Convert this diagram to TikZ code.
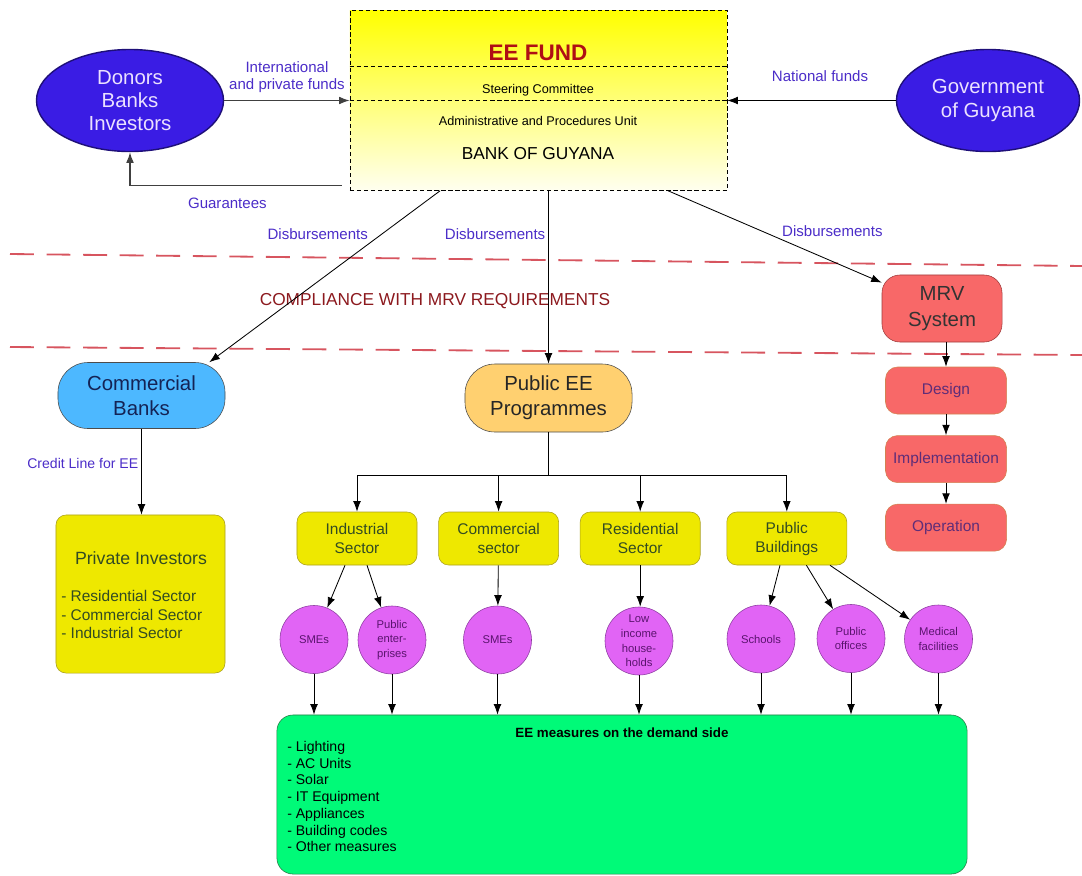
\documentclass[tikz,border=0pt]{standalone}
\usepackage{fontspec}
\setmainfont{Liberation Sans}
\usetikzlibrary{positioning, arrows.meta, shapes.geometric}
\tikzset{flecha/.style={line width=0.6pt, -{Latex[length=7.5pt,width=5.5pt]}}}
\definecolor{azul}{RGB}{75,45,200}
\definecolor{elipse}{RGB}{58,28,228}
\definecolor{elipseborde}{RGB}{30,15,120}
\definecolor{elipsetexto}{RGB}{235,225,255}
\definecolor{rojoee}{RGB}{175,15,20}
\definecolor{rayaroja}{RGB}{215,85,95}
\definecolor{cumple}{RGB}{140,25,30}
\definecolor{mrvfill}{RGB}{248,104,104}
\definecolor{mrvborde}{RGB}{160,60,60}
\definecolor{naranja}{RGB}{210,130,80}
\definecolor{morado}{RGB}{95,45,120}
\definecolor{celeste}{RGB}{77,184,255}
\definecolor{marino}{RGB}{20,35,85}
\definecolor{durazno}{RGB}{255,208,112}
\definecolor{amarillo}{RGB}{238,232,0}
\definecolor{amarilloborde}{RGB}{170,160,30}
\definecolor{verdeosc}{RGB}{50,75,35}
\definecolor{magenta}{RGB}{225,100,245}
\definecolor{magentaborde}{RGB}{140,60,160}
\definecolor{magentatexto}{RGB}{90,20,110}
\definecolor{verde}{RGB}{0,250,120}
\definecolor{verdeborde}{RGB}{40,120,70}

\begin{document}
\begin{tikzpicture}[
            x=0.025cm, y=-0.025cm,
            every node/.style={inner sep=2pt},
            etiq/.style={text=azul, align=center, font=\fontsize{10.7}{12.4}\selectfont},
            elipse/.style={ellipse, draw=elipseborde, line width=1pt, fill=elipse, text=elipsetexto, align=center, minimum height=2.55cm, font=\fontsize{14.5}{16.6}\selectfont},
            programa/.style={rounded corners=0.75cm, draw=black!70, minimum width=4.175cm, align=center, font=\fontsize{14.5}{17.8}\selectfont},
            paso/.style={rounded corners=0.3cm, draw=naranja, fill=mrvfill, text=morado, minimum width=3.025cm, minimum height=1.175cm, font=\fontsize{11}{13}\selectfont},
            sector/.style={rounded corners=0.25cm, draw=amarilloborde, fill=amarillo, text=verdeosc, align=center, minimum width=3cm, minimum height=1.325cm, font=\fontsize{11}{13.5}\selectfont},
            grupo/.style={circle, draw=magentaborde, fill=magenta, text=magentatexto, align=center, inner sep=0pt, minimum size=1.7cm, font=\fontsize{8}{10.4}\selectfont},
            roja/.style={draw=rayaroja, line width=1.3pt, dash pattern=on 17pt off 9pt}
        ]
            \useasboundingbox (0,0) rectangle (1082,875);

            \draw[roja] (10,254) -- (1082,266);
            \draw[roja] (10,347) -- (1082,355);
            \node[text=cumple, font=\fontsize{12.3}{14}\selectfont] (cumple) at (435,301) {COMPLIANCE WITH MRV REQUIREMENTS};

            \node[draw, dash pattern=on 3pt off 2pt, top color=yellow, bottom color=yellow!6, minimum width=9.425cm, minimum height=4.5cm] (fund) at (538.5,100.5) {};
            \draw[dash pattern=on 3pt off 2pt] ([yshift=-1.4cm]fund.north west) -- ([yshift=-1.4cm]fund.north east);
            \draw[dash pattern=on 3pt off 2pt] ([yshift=-2.25cm]fund.north west) -- ([yshift=-2.25cm]fund.north east);
            \node[text=rojoee, font=\bfseries\fontsize{16}{19}\selectfont] (eefund) at (538,53) {EE FUND};
            \node[font=\fontsize{9}{11}\selectfont] (steer) at (538,90) {Steering Committee};
            \node[font=\fontsize{9}{11}\selectfont] (admin) at (538,120.5) {Administrative and Procedures Unit};
            \node[font=\fontsize{12.3}{14}\selectfont] (bog) at (538,154) {BANK OF GUYANA};

            \node[elipse, minimum width=4.675cm] (donors) at (130,100.5) {Donors\\Banks\\Investors};
            \node[elipse, minimum width=4.575cm] (gov) at (988,100.5) {Government\\of Guyana};

            \draw[flecha, line width=0.9pt, black!75] (donors.east) -- (fund.west) node[etiq, midway, above=3pt] {International\\and private funds};
            \draw[flecha] (gov.west) -- (fund.east) node[etiq, pos=0.45, above=11pt] {National funds};
            \draw[flecha, line width=0.9pt, black!75] ([xshift=-0.2cm, yshift=0.125cm]fund.south west) -| (donors.south) node[etiq, pos=0.27, below=6pt] {Guarantees};

            \node[programa, fill=celeste, text=marino, minimum height=1.65cm] (comm) at (141.5,395.5) {Commercial\\Banks};
            \node[programa, fill=durazno, text=black!85, minimum height=1.7cm] (pub) at (548.5,398) {Public EE\\Programmes};
            \node[rounded corners=0.45cm, draw=mrvborde, fill=mrvfill, text=black!80, align=center, minimum width=3cm, minimum height=1.675cm, font=\fontsize{14.5}{18.5}\selectfont] (mrv) at (942,308.5) {MRV\\System};

            \draw[flecha] ([xshift=-2.46cm]fund.south) -- ([xshift=-0.4cm]comm.north east) node[etiq, pos=0.25, left=8pt] {Disbursements};
            \draw[flecha] ([xshift=0.25cm]fund.south) -- (pub.north) node[etiq, pos=0.25, left=0pt] {Disbursements};
            \draw[flecha] ([xshift=3.24cm]fund.south) -- (mrv) node[etiq, pos=0.44, right=12pt] {Disbursements};

            \node[paso] (design) at (946,390.5) {Design};
            \node[paso, below=5.25mm of design] (impl) {Implementation};
            \node[paso, below=5.25mm of impl] (oper) {Operation};
            \draw[flecha] (mrv.south -| design.north) -- (design.north);
            \draw[flecha] (design) -- (impl);
            \draw[flecha] (impl) -- (oper);

            \node[rounded corners=0.25cm, draw=amarilloborde, fill=amarillo, minimum width=4.225cm, minimum height=3.95cm] (priv) at (140.5,594) {};
            \node[text=verdeosc, font=\fontsize{12.6}{15}\selectfont] (privtit) at (141,558) {Private Investors};
            \node[anchor=west, align=left, inner sep=0pt, text=verdeosc, font=\fontsize{11}{13}\selectfont] (privlist) at (61,614.5) {- Residential Sector\\- Commercial Sector\\- Industrial Sector};
            \draw[flecha] (comm.south) -- (comm.south |- priv.north) node[etiq, pos=0.4, left=0pt, font=\fontsize{10}{12}\selectfont] {Credit Line for EE};

            \node[sector] (ind) at (357,538.5) {Industrial\\Sector};
            \node[sector, right=5.25mm of ind] (comsec) {Commercial\\sector};
            \node[sector, right=5.25mm of comsec] (res) {Residential\\Sector};
            \node[sector, right=6.5mm of res] (pbld) {Public\\Buildings};

            \coordinate (split) at (548.5,475);
            \draw (pub.south) -- (split);
            \draw (ind |- split) -- (pbld |- split);
            \foreach \s in {ind,comsec,res,pbld}
                \draw[flecha] (\s |- split) -- (\s.north);

            \node[grupo] (sme1) at (314,639.5) {SMEs};
            \node[grupo] (penterp) at (392,640) {Public\\enter-\\prises};
            \node[grupo] (sme2) at (497.5,640) {SMEs};
            \node[grupo] (lowinc) at (639,641) {Low\\income\\house-\\holds};
            \node[grupo] (schools) at (761,639) {Schools};
            \node[grupo] (poffices) at (851,638.5) {Public\\offices};
            \node[grupo] (medical) at (938.5,639) {Medical\\facilities};

            \draw[flecha] ([xshift=-0.3cm]ind.south) -- (sme1);
            \draw[flecha] ([xshift=0.25cm]ind.south) -- (penterp);
            \draw[flecha] (comsec) -- (sme2);
            \draw[flecha] (res.south) -- (res.south |- lowinc.north);
            \draw[flecha] ([xshift=-0.17cm]pbld.south) -- (schools);
            \draw[flecha] ([xshift=0.49cm]pbld.south) -- (poffices);
            \draw[flecha] ([xshift=1.08cm]pbld.south) -- (medical);

            \node[rounded corners=0.4cm, draw=verdeborde, fill=verde, minimum width=17.25cm, minimum height=3.975cm] (medidas) at (622,794.5) {};
            \node[font=\bfseries\fontsize{9.5}{11}\selectfont] (medtit) at (622,733) {EE measures on the demand side};
            \node[anchor=north west, align=left, inner sep=0pt, font=\fontsize{10}{11.9}\selectfont] (medlist) at (287,741) {- Lighting\\- AC Units\\- Solar\\- IT Equipment\\- Appliances\\- Building codes\\- Other measures};

            \foreach \c in {sme1,penterp,sme2,lowinc,schools,poffices,medical}
                \draw[flecha] (\c) -- (\c |- medidas.north);
        \end{tikzpicture}
\end{document}
